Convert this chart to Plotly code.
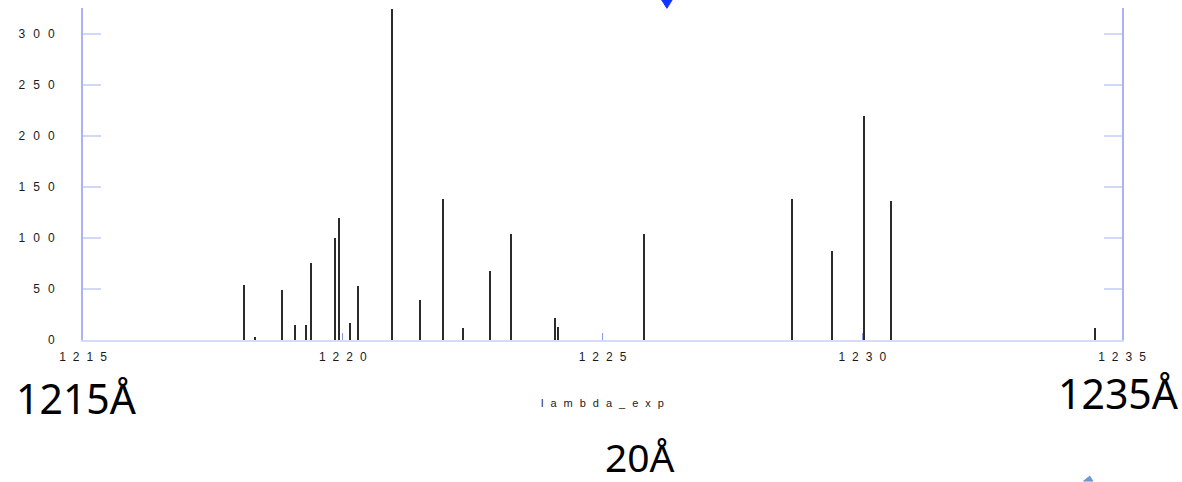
import plotly.graph_objects as go

# Experimental line list: wavelength (Å) and intensity
lambda_exp = [1218.11, 1218.31, 1218.84, 1219.09, 1219.29, 1219.40, 1219.86, 1219.93,
              1220.14, 1220.29, 1220.95, 1221.49, 1221.93, 1222.32, 1222.83, 1223.24,
              1224.08, 1224.14, 1225.81, 1228.66, 1229.42, 1230.04, 1230.55, 1234.49]
intensity = [54, 3, 49, 15, 15, 75, 100, 119,
             17, 53, 324, 39, 138, 12, 68, 104,
             22, 13, 104, 138, 87, 219, 136, 12]

x_ticks = [1215, 1220, 1225, 1230, 1235]
y_ticks = [0, 50, 100, 150, 200, 250, 300]
range_labels = ["1215Å", "1235Å", "20Å"]

AXIS_FONT = dict(family="Liberation Sans", size=12, color="#1a1a1a")


def spaced(label, gap=8):
    """Wide-tracked label: extra spacing after every character but the last."""
    s = str(label)
    if len(s) < 2:
        return s
    return f"<span style='letter-spacing:{gap}px'>{s[:-1]}</span>{s[-1]}"


fig = go.Figure()

fig.add_trace(go.Bar(
    x=lambda_exp,
    y=intensity,
    width=0.026,
    marker=dict(color="#2b2b2b", line=dict(width=0)),
    showlegend=False,
))

fig.update_layout(
    width=1182,
    height=482,
    margin=dict(l=83, r=60, t=8, b=142),
    paper_bgcolor="white",
    plot_bgcolor="white",
    bargap=0,
    font=AXIS_FONT,
    xaxis=dict(
        range=[1215, 1235],
        tickmode="array",
        tickvals=x_ticks,
        ticktext=[spaced(v, 7) for v in x_ticks],
        ticks="inside",
        ticklen=7,
        tickwidth=1,
        tickcolor="#8a98f2",
        showline=True,
        linecolor="#d6dbf8",
        linewidth=2,
        showgrid=False,
        zeroline=False,
        tickfont=AXIS_FONT,
        ticklabelstandoff=5,
        title=dict(text=spaced("lambda_exp", 7), font=dict(AXIS_FONT, size=11), standoff=36),
        automargin=False,
    ),
    yaxis=dict(
        range=[0, 325],
        tickmode="array",
        tickvals=y_ticks,
        ticktext=[spaced(v, 8) for v in y_ticks],
        ticks="inside",
        ticklen=18,
        tickwidth=2,
        tickcolor="#d2d8f8",
        showline=True,
        linecolor="#aab4f2",
        linewidth=2,
        mirror="ticks",
        showgrid=False,
        zeroline=False,
        tickfont=AXIS_FONT,
        ticklabelstandoff=24,
        automargin=False,
    ),
)

# Range annotations below the axis
BIG_FONT = dict(family="Noto Sans", size=41, color="black")
fig.add_annotation(text=range_labels[0], xref="paper", yref="paper",
                   x=-0.0065, y=-0.175, xanchor="center", yanchor="middle",
                   showarrow=False, font=BIG_FONT)
fig.add_annotation(text=range_labels[1], xref="paper", yref="paper",
                   x=0.997, y=-0.16, xanchor="center", yanchor="middle",
                   showarrow=False, font=BIG_FONT)
fig.add_annotation(text=range_labels[2], xref="paper", yref="paper",
                   x=0.5362, y=-0.35, xanchor="center", yanchor="middle",
                   showarrow=False, font=dict(BIG_FONT, size=39))

# Blue pointer at the top edge
fig.add_shape(type="path", xref="paper", yref="paper",
              path="M 0.5570 1.024 L 0.5670 1.024 L 0.5620 0.999 Z",
              fillcolor="#1434ff", line=dict(color="#1434ff", width=1))
# Small arrow tip at the bottom right
fig.add_shape(type="path", xref="paper", yref="paper",
              path="M 0.963 -0.425 L 0.969 -0.410 L 0.972 -0.425 Z",
              fillcolor="#6a9ad4", line=dict(color="#6a9ad4", width=1))

fig.write_html("out.html")
